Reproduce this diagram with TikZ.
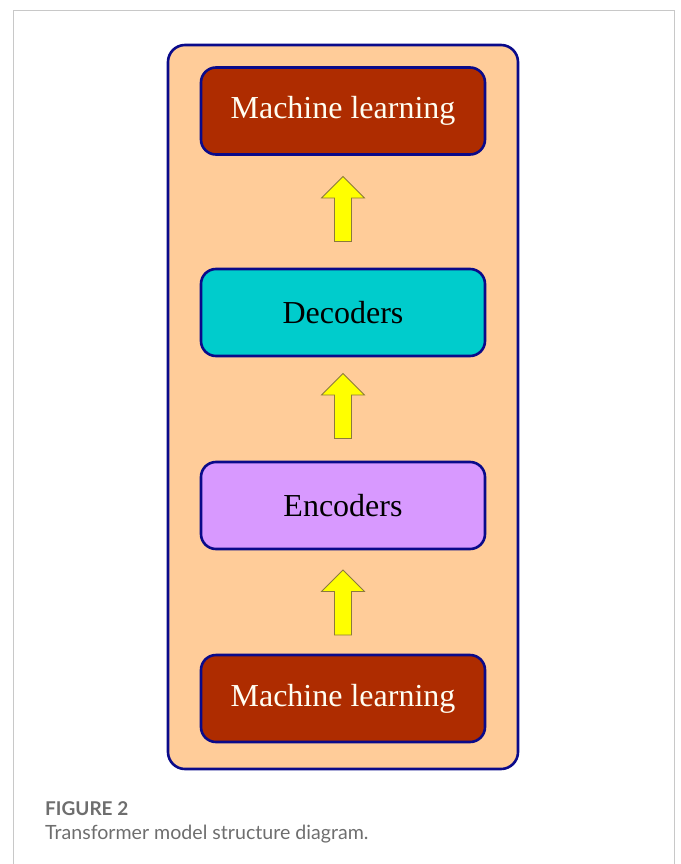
\documentclass[tikz,border=0pt]{standalone}
\usepackage{fontspec}
\setmainfont{Liberation Serif}
\newfontfamily\capfont{Lato}
\definecolor{peach}{HTML}{FFCC99}
\definecolor{navyb}{HTML}{0A0A8A}
\definecolor{mlred}{HTML}{AE2C00}
\definecolor{decoc}{HTML}{00CCCC}
\definecolor{encoc}{HTML}{D899FF}
\definecolor{arrowy}{HTML}{FFFF00}
\definecolor{arrowb}{HTML}{8C7A3C}
\definecolor{capgrey}{HTML}{6E6E6E}
\definecolor{framegrey}{HTML}{C8C8C8}
\begin{document}
\begin{tikzpicture}[x=1pt,y=-1pt,
  blockbox/.style={draw=navyb,line width=2.6pt,rounded corners=15pt,minimum width=284pt,minimum height=87pt,font=\fontsize{32}{36}\selectfont,inner sep=0pt},
  uparrow/.style={fill=arrowy,draw=arrowb,line width=0.8pt,line join=miter}]
\useasboundingbox (0,0) rectangle (680,864);
\draw[framegrey,line width=1.2pt] (13.5,865) -- (13.5,10.5) -- (674.5,10.5) -- (674.5,865);
\node[draw=navyb,fill=peach,line width=2.6pt,rounded corners=17pt,minimum width=350pt,minimum height=724pt,inner sep=0pt] (outer) at (343,407) {};
\node[blockbox,fill=mlred,text=white!95!yellow] (mltop) at (343,111) {Machine learning};
\node[blockbox,fill=decoc] (dec) at (343,312.5) {Decoders};
\node[blockbox,fill=encoc] (enc) at (343,505.5) {Encoders};
\node[blockbox,fill=mlred,text=white!95!yellow] (mlbot) at (343,698.5) {Machine learning};
\foreach \n/\t in {a1/176.5,a2/373.5,a3/570}{
  \draw[uparrow] (343,\t) -- ++(21.5,21.5) -- ++(-13,0) -- ++(0,43.5) -- ++(-17,0) -- ++(0,-43.5) -- ++(-13,0) -- cycle;
  \coordinate (\n) at (343,\t);
}
\node[anchor=base west,inner sep=0pt,text=capgrey,font=\capfont\bfseries\fontsize{19}{22}\selectfont] (figlab) at (45,815.5) {FIGURE 2};
\node[anchor=base west,inner sep=0pt,text=capgrey,font=\capfont\fontsize{19.6}{23}\selectfont] (figcap) at (45,839.5) {Transformer model structure diagram.};
\end{tikzpicture}
\end{document}
